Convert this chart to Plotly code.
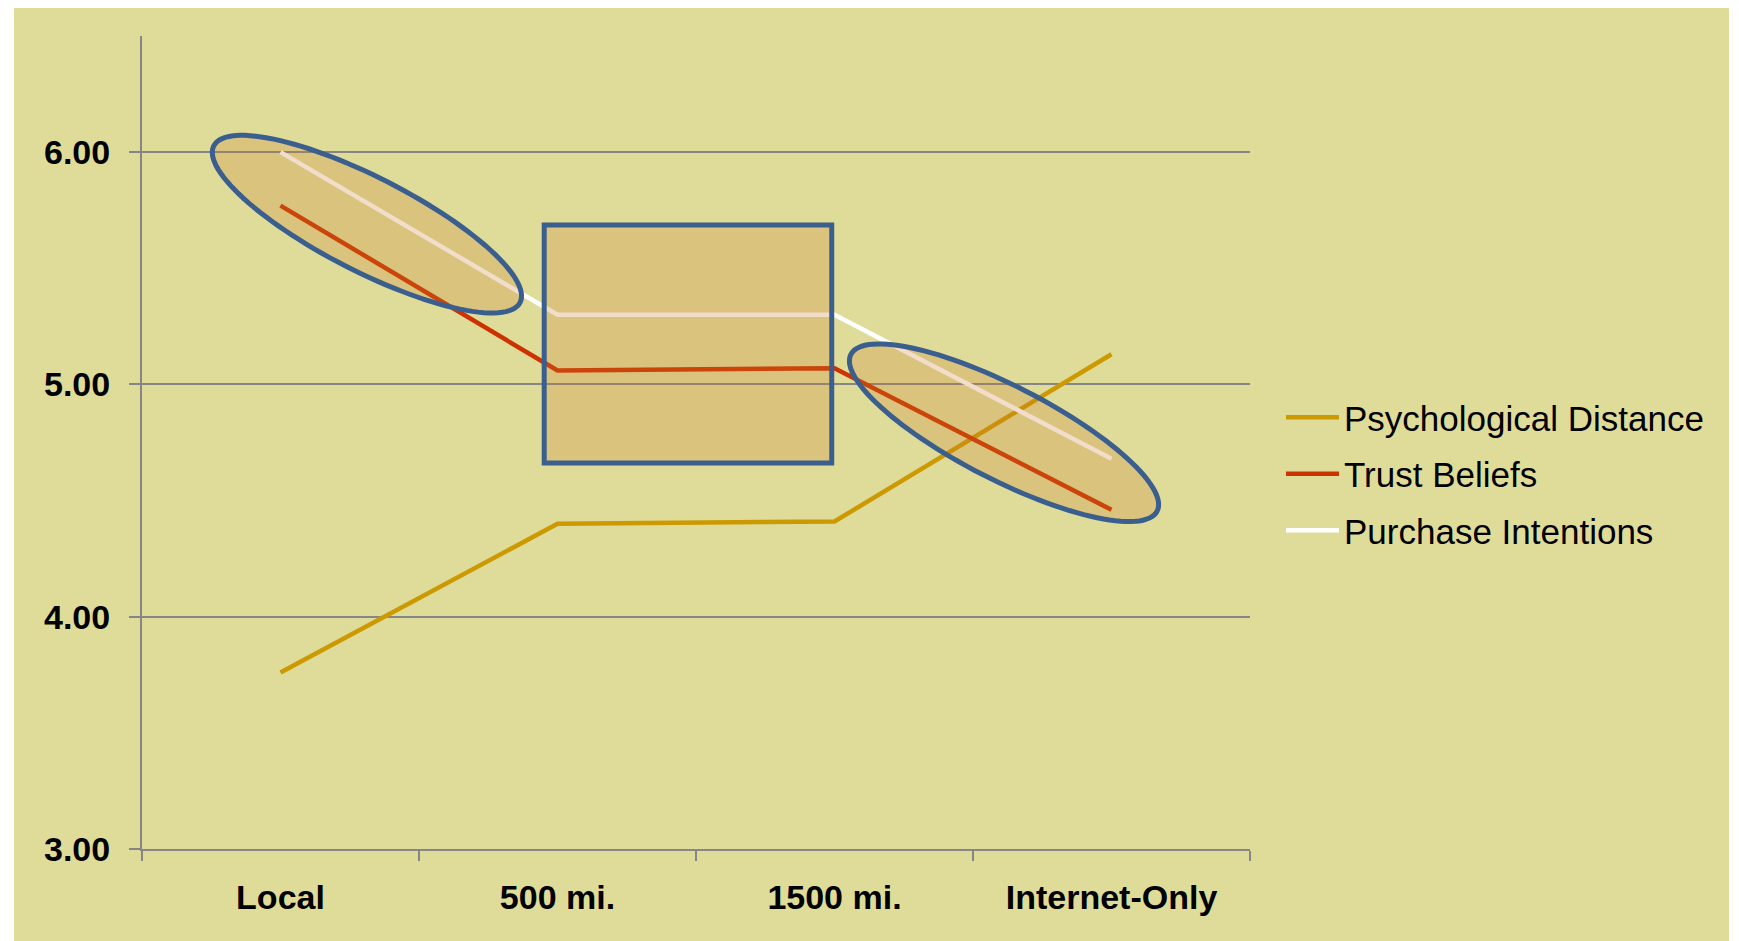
import numpy as np
import plotly.graph_objects as go

categories = ["Local", "500 mi.", "1500 mi.", "Internet-Only"]
psych_distance = [3.76, 4.40, 4.41, 5.13]
trust_beliefs = [5.77, 5.06, 5.07, 4.46]
purchase_intentions = [6.00, 5.30, 5.30, 4.68]
y_ticks = [3, 4, 5, 6]
y_ticktext = ["3.00", "4.00", "5.00", "6.00"]

# figure size (page body adds an 8px margin)
W, H = 1731, 933
L, R, T, B = 134, 489, 28, 92
XR = [-0.5, 3.5]
YR = [3.0, 6.5]
pw, ph = W - L - R, H - T - B
sx = pw / (XR[1] - XR[0])
sy = ph / (YR[1] - YR[0])

BG = "#DFDC9A"
GRID = "#868686"
OUTLINE = "#3A5F8E"
FILL = "rgba(200,118,38,0.25)"
FONT = "Liberation Sans, Arial, sans-serif"

fig = go.Figure()
for name, vals, col in [
    ("Psychological Distance", psych_distance, "#CC9900"),
    ("Trust Beliefs", trust_beliefs, "#CC3300"),
    ("Purchase Intentions", purchase_intentions, "#FFFFFF"),
]:
    fig.add_trace(go.Scatter(x=categories, y=vals, mode="lines", name=name,
                             legendgroup=name,
                             line=dict(color=col, width=4.5)))


def ellipse_path(cx, cy, a_px, b_px, ang_deg, n=120):
    t = np.linspace(0, 2 * np.pi, n, endpoint=False)
    th = np.deg2rad(ang_deg)
    ex = a_px * np.cos(t)
    ey = b_px * np.sin(t)
    px = ex * np.cos(th) - ey * np.sin(th)
    py = ex * np.sin(th) + ey * np.cos(th)  # pixel y downward
    xs = cx + px / sx
    ys = cy - py / sy
    pts = [f"{x:.4f},{y:.4f}" for x, y in zip(xs, ys)]
    return "M" + " L".join(pts) + " Z"


shapes = [
    dict(type="rect", xref="paper", yref="paper", layer="below",
         x0=(6 - L) / pw, x1=(1721 - L) / pw, y0=-0.2, y1=(H - B + 10) / ph,
         fillcolor=BG, line=dict(width=0)),
    dict(type="path", xref="x", yref="y", layer="above",
         path=ellipse_path(0.312, 5.690, 172, 47, 27.1),
         fillcolor=FILL, line=dict(color=OUTLINE, width=5)),
    dict(type="rect", xref="x", yref="y", layer="above",
         x0=0.952, x1=1.990, y0=4.662, y1=5.686,
         fillcolor=FILL, line=dict(color=OUTLINE, width=5)),
    dict(type="path", xref="x", yref="y", layer="above",
         path=ellipse_path(2.612, 4.792, 172, 47, 27.1),
         fillcolor=FILL, line=dict(color=OUTLINE, width=5)),
]

fig.update_layout(
    width=W, height=H,
    margin=dict(l=L, r=R, t=T, b=B, pad=0),
    paper_bgcolor="white",
    plot_bgcolor="rgba(0,0,0,0)",
    shapes=shapes,
    font=dict(family=FONT, color="black"),
    showlegend=True,
    legend=dict(x=(1273 - L) / pw, y=(H - B - 380) / ph, xanchor="left", yanchor="top",
                bgcolor="rgba(0,0,0,0)", font=dict(size=35, family=FONT),
                itemwidth=53, tracegroupgap=8),
    xaxis=dict(type="category", range=XR, tickson="boundaries",
               showgrid=False, showline=True, linecolor=GRID, linewidth=2,
               ticks="outside", ticklen=10, tickcolor=GRID, tickwidth=1.5,
               tickfont=dict(size=34, family=FONT, weight="bold"),
               ticklabelstandoff=17, zeroline=False),
    yaxis=dict(range=YR, tickvals=y_ticks, ticktext=y_ticktext,
               showgrid=True, gridcolor=GRID, gridwidth=1.5,
               showline=True, linecolor=GRID, linewidth=2,
               ticks="outside", ticklen=11, tickcolor=GRID, tickwidth=1.5,
               tickfont=dict(size=34, family=FONT, weight="bold"),
               ticklabelstandoff=12, zeroline=False),
)

fig.write_html("out.html")
